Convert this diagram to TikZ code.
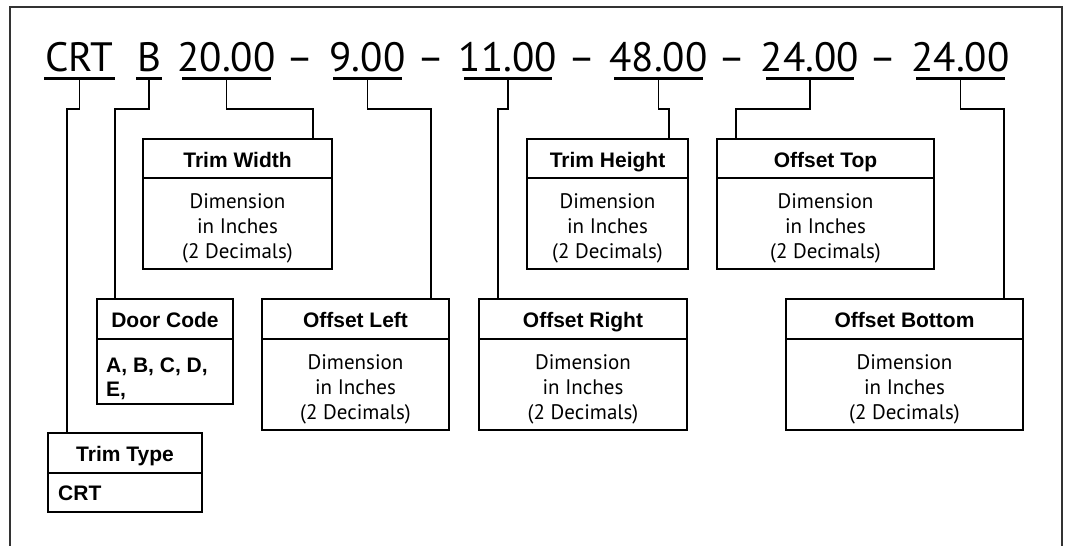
\documentclass[tikz,border=0pt]{standalone}
\usepackage{fontspec}
\setmainfont{PT Sans}
\newfontfamily\headfont{Liberation Sans}

\tikzset{
  codetext/.style={anchor=base, inner sep=0pt, outer sep=0pt, font=\fontsize{41}{41}\selectfont},
  uline/.style={line width=3pt},
  link/.style={line width=1.2pt},
  boxline/.style={line width=1.6pt},
  box/.style={draw, boxline, inner sep=0pt, outer sep=0pt},
  title/.style={anchor=base, inner sep=0pt, font=\headfont\bfseries\fontsize{21}{21}\selectfont},
  body/.style={anchor=base, inner sep=0pt, align=center, font=\fontsize{21}{25}\selectfont},
  codes/.style={anchor=base west, inner sep=0pt, align=left, font=\headfont\bfseries\fontsize{21}{22}\selectfont},
  frame/.style={line width=2pt, draw=black!80},
}

% box with a title row: name, left, top, right, bottom, divider y, title
\newcommand\specbox[7]{%
  \node[box, minimum width={(#4-#2)*1pt}, minimum height={(#5-#3)*1pt}]
    (#1) at ({(#2+#4)/2},{(#3+#5)/2}) {};
  \draw[boxline] (#1.west |- 0,#6) -- (#1.east |- 0,#6);
  \node[title] (#1-t) at ({(#2+#4)/2},{#3+28}) {#7};
}
\newcommand\dimtext{Dimension\\in Inches\\(2 Decimals)}

\begin{document}
\begin{tikzpicture}[x=1pt, y=-1pt]
\useasboundingbox (0,0) rectangle (1066,546);

% outer frame, open at the bottom
\draw[frame] (10,546) -- (10,7) -- (1062,7) -- (1062,546);

% the part code
\node[codetext] (cCRT) at (79.5,71) {CRT};
\node[codetext] (cB)   at (149,71) {B};
\node[codetext] (cTW)  at (226.5,71) {20.00};
\node[codetext] (d1)   at (300.5,71) {–};
\node[codetext] (cOL)  at (367.5,71) {9.00};
\node[codetext] (d2)   at (431.5,71) {–};
\node[codetext] (cOR)  at (508,71) {11.00};
\node[codetext] (d3)   at (582,71) {–};
\node[codetext] (cTH)  at (658.5,71) {48.00};
\node[codetext] (d4)   at (732.5,71) {–};
\node[codetext] (cOT)  at (810,71) {24.00};
\node[codetext] (d5)   at (883,71) {–};
\node[codetext] (cOB)  at (960.5,71) {24.00};

% underlines
\draw[uline] (44,78) -- (115,78);   \coordinate (uCRT) at (79.5,78);
\draw[uline] (136,78) -- (162,78);  \coordinate (uB) at (149,78);
\draw[uline] (182,78) -- (271,78);  \coordinate (uTW) at (226.5,78);
\draw[uline] (333,78) -- (402,78);  \coordinate (uOL) at (367.5,78);
\draw[uline] (464,78) -- (552,78);  \coordinate (uOR) at (508,78);
\draw[uline] (614,78) -- (703,78);  \coordinate (uTH) at (658.5,78);
\draw[uline] (766,78) -- (854,78);  \coordinate (uOT) at (810,78);
\draw[uline] (916,78) -- (1005,78); \coordinate (uOB) at (960.5,78);

% description boxes
\specbox{tw}{143}{139}{332}{269}{178}{Trim Width}
\specbox{th}{527}{139}{688}{269}{178}{Trim Height}
\specbox{ot}{717}{139}{934}{269}{178}{Offset Top}
\specbox{dc}{97}{299}{233}{404}{339}{Door Code}
\specbox{ol}{262}{299}{449}{430}{339}{Offset Left}
\specbox{or}{479}{299}{687}{430}{339}{Offset Right}
\specbox{ob}{786}{299}{1023}{430}{339}{Offset Bottom}
\specbox{tt}{48}{433}{202}{512}{473}{Trim Type}

% body texts (anchored at the baseline of their last line)
\node[body] (tw-b) at (tw |- 0,258) {\dimtext};
\node[body] (th-b) at (th |- 0,258) {\dimtext};
\node[body] (ot-b) at (ot |- 0,258) {\dimtext};
\node[body] (ol-b) at (ol |- 0,419) {\dimtext};
\node[body] (or-b) at (or |- 0,419) {\dimtext};
\node[body] (ob-b) at (ob |- 0,419) {\dimtext};
\node[codes] (dc-b) at (106,396) {A, B, C, D,\\[2pt]E,};
\node[codes] (tt-b) at (58,500) {CRT};

% entry points on the box tops
\coordinate (inTT) at (tt.north -| 67,0);
\coordinate (inDC) at (dc.north -| 115,0);
\coordinate (inTW) at (tw.north -| 313,0);
\coordinate (inOL) at (ol.north -| 431,0);
\coordinate (inOR) at (or.north -| 498,0);
\coordinate (inTH) at (th.north -| 669,0);
\coordinate (inOT) at (ot.north -| 736,0);
\coordinate (inOB) at (ob.north -| 1004,0);

% connectors
\foreach \u/\e in {uCRT/inTT, uB/inDC, uTW/inTW, uOL/inOL, uOR/inOR, uTH/inTH, uOT/inOT, uOB/inOB}
  \draw[link] (\u) -- (\u |- 0,109) -| (\e);

\end{tikzpicture}
\end{document}
